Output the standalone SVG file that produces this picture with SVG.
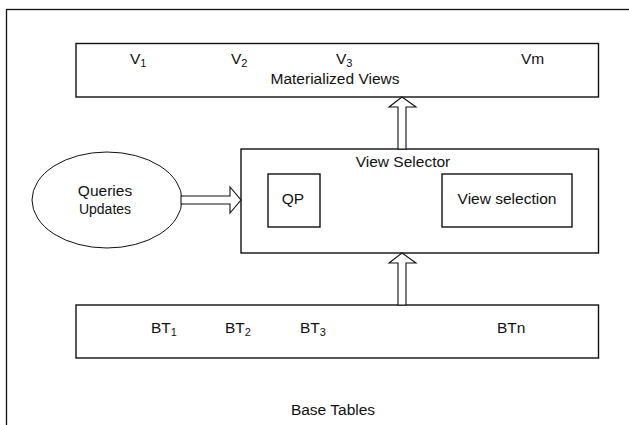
<svg xmlns="http://www.w3.org/2000/svg" width="629" height="425" viewBox="0 0 629 425">
<style>
.box{fill:#fff;stroke:#111;stroke-width:1.4}
.arr{fill:#fff;stroke:#111;stroke-width:1.1;stroke-linejoin:miter}
text{font-family:"Liberation Sans",Arial,sans-serif;font-size:15.5px;fill:#111}
.m{text-anchor:middle}
.sub{font-size:11px}
</style>
<rect x="0" y="0" width="629" height="425" fill="#fff"/>
<rect id="frame" x="6.5" y="9.5" width="640" height="440" fill="none" stroke="#111" stroke-width="1.3"/>
<g id="materialized-views">
<rect class="box" x="76" y="43.5" width="522.5" height="53.5"/>
<text x="130" y="64">V<tspan class="sub" dy="3">1</tspan></text>
<text x="231" y="64">V<tspan class="sub" dy="3">2</tspan></text>
<text x="336" y="64">V<tspan class="sub" dy="3">3</tspan></text>
<text x="521" y="64">Vm</text>
<text class="m" x="335" y="84">Materialized Views</text>
</g>
<g id="view-selector">
<rect class="box" x="241" y="149" width="357.5" height="104"/>
<text class="m" x="403" y="167">View Selector</text>
</g>
<g id="qp">
<rect class="box" x="268" y="174" width="52" height="53"/>
<text class="m" x="293" y="204">QP</text>
</g>
<g id="view-selection">
<rect class="box" x="442" y="174" width="130" height="53"/>
<text class="m" x="507" y="204">View selection</text>
</g>
<g id="queries">
<ellipse cx="107" cy="200" rx="75" ry="48" fill="#fff" stroke="#111" stroke-width="1"/>
<text class="m" x="105" y="196">Queries</text>
<text class="m" x="105" y="214" style="font-size:14px">Updates</text>
</g>
<g id="base-tables">
<rect class="box" x="76" y="305" width="522.5" height="53"/>
<text x="151" y="333">BT<tspan class="sub" dy="3">1</tspan></text>
<text x="225" y="333">BT<tspan class="sub" dy="3">2</tspan></text>
<text x="300" y="333">BT<tspan class="sub" dy="3">3</tspan></text>
<text x="497" y="333">BTn</text>
<text class="m" x="333" y="415">Base Tables</text>
</g>
<g id="connectors">
<polygon class="arr" points="398,149 398,107 389,107 402,97 416,107 406,107 406,149"/>
<polygon class="arr" points="398,305 398,263 389,263 402,253 416,263 406,263 406,305"/>
<polygon class="arr" points="181,196 230,196 230,187 241,200 230,213 230,204 181,204"/>
</g>
</svg>
